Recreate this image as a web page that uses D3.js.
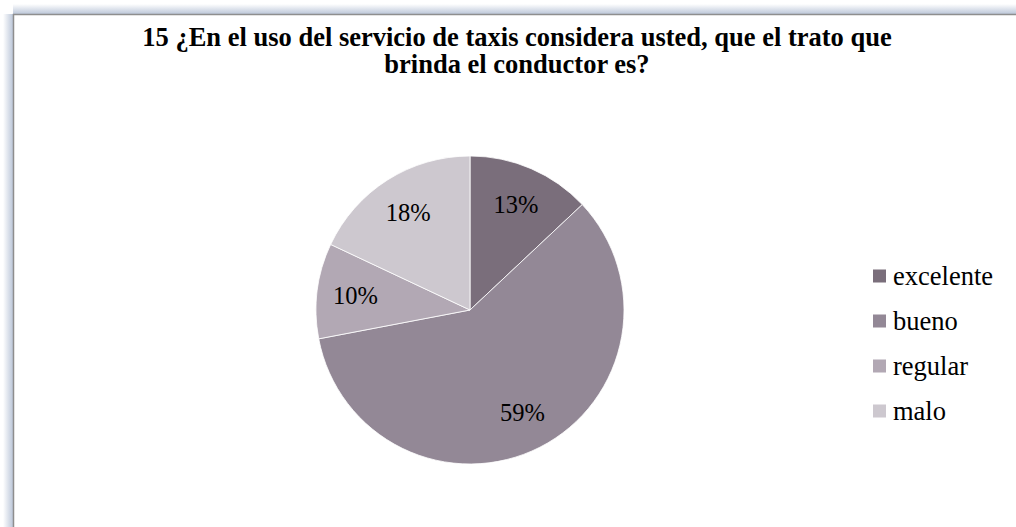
<!DOCTYPE html>
<html>
<head>
<meta charset="utf-8">
<script src="https://cdn.jsdelivr.net/npm/d3@7"></script>
<style>
  html, body { margin: 0; padding: 0; background: #ffffff; }
  svg { display: block; }
</style>
</head>
<body>
<svg id="chart" width="1016" height="527"></svg>
<script>
// Survey answers and their shares (percent)
const categories = ["excelente", "bueno", "regular", "malo"];
const values = [13, 59, 10, 18];
const colors = ["#7a6e7b", "#938896", "#b2a8b4", "#cdc8cf"];
const titleLines = [
  "15 ¿En el uso del servicio de taxis considera usted, que el trato que",
  "brinda el conductor es?"
];

const serif = "Liberation Serif, Times New Roman, serif";
const svg = d3.select("#chart");
const W = 1016, H = 527;
const defs = svg.append("defs");

// Soft bluish glow along the top and left edges of the chart frame
const gTop = defs.append("linearGradient").attr("id", "glowTop")
  .attr("x1", 0).attr("y1", 0).attr("x2", 0).attr("y2", 1);
gTop.append("stop").attr("offset", "0%").attr("stop-color", "#ffffff");
gTop.append("stop").attr("offset", "100%").attr("stop-color", "#bcc7d9");
const gLeft = defs.append("linearGradient").attr("id", "glowLeft")
  .attr("x1", 0).attr("y1", 0).attr("x2", 1).attr("y2", 0);
gLeft.append("stop").attr("offset", "0%").attr("stop-color", "#ffffff");
gLeft.append("stop").attr("offset", "100%").attr("stop-color", "#bcc7d9");

const frameX = 13, frameY = 14;
svg.append("rect").attr("x", frameX).attr("y", 4).attr("width", W - frameX).attr("height", frameY - 4)
  .attr("fill", "url(#glowTop)");
svg.append("rect").attr("x", 3).attr("y", frameY).attr("width", frameX - 3).attr("height", H - frameY)
  .attr("fill", "url(#glowLeft)");
svg.append("path")
  .attr("d", `M${frameX + 0.5},${H} V${frameY + 0.5} H${W}`)
  .attr("fill", "none").attr("stroke", "#8e8e8e").attr("stroke-width", 1.5);

// Title
const title = svg.append("text")
  .attr("x", 517).attr("y", 46)
  .attr("text-anchor", "middle")
  .attr("font-family", serif)
  .attr("font-weight", "bold")
  .attr("font-size", 26.5)
  .attr("fill", "#000");
title.selectAll("tspan").data(titleLines).join("tspan")
  .attr("x", 517)
  .attr("dy", (d, i) => i === 0 ? 0 : 27)
  .text(d => d);

// Pie
const cx = 470, cy = 310, R = 154;
const pie = d3.pie().sort(null).value(d => d.value);
const arcs = pie(categories.map((c, i) => ({ name: c, value: values[i], color: colors[i] })));
const arc = d3.arc().innerRadius(0).outerRadius(R);
const labelArc = d3.arc().innerRadius(R * 0.75).outerRadius(R * 0.75);

const g = svg.append("g").attr("transform", `translate(${cx},${cy})`);
g.selectAll("path.slice").data(arcs).join("path")
  .attr("class", "slice")
  .attr("d", arc)
  .attr("fill", d => d.data.color)
  .attr("stroke", "#ffffff")
  .attr("stroke-width", 0.8);

g.selectAll("text.lbl").data(arcs).join("text")
  .attr("class", "lbl")
  .attr("transform", d => `translate(${labelArc.centroid(d)})`)
  .attr("text-anchor", "middle")
  .attr("dy", "0.35em")
  .attr("font-family", serif)
  .attr("font-size", 24.5)
  .attr("fill", "#000")
  .text(d => d.data.value + "%");

// Legend
const legend = svg.append("g").attr("transform", "translate(873,276)");
const item = legend.selectAll("g").data(categories).join("g")
  .attr("transform", (d, i) => `translate(0,${i * 45})`);
item.append("rect")
  .attr("x", 0).attr("y", -6.5).attr("width", 13).attr("height", 13)
  .attr("fill", (d, i) => colors[i]);
item.append("text")
  .attr("x", 20).attr("y", 0).attr("dy", "0.35em")
  .attr("font-family", serif)
  .attr("font-size", 26.5)
  .attr("fill", "#000")
  .text(d => d);
</script>
</body>
</html>
